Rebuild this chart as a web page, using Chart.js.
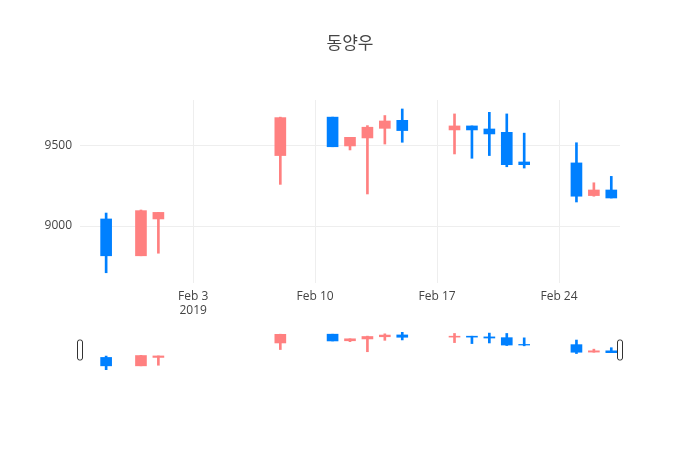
<!DOCTYPE html>
<html><head><meta charset="utf-8">
<script src="https://cdn.jsdelivr.net/npm/chart.js@4"></script>
<style>body{margin:0;background:#fff}#a{position:absolute;left:0;top:0;width:700px;height:320px}#b{position:absolute;left:0;top:328px;width:700px;height:46px}</style>
</head><body>
<div id="a"><canvas id="c1"></canvas></div>
<div id="b"><canvas id="c2"></canvas></div>
<script>
// day offsets relative to Feb 1 2019
const days  = [-3, -1, 0, 7, 10, 11, 12, 13, 14, 17, 18, 19, 20, 21, 24, 25, 26];
const opens = [9044, 8814, 9044, 9440, 9680, 9500, 9550, 9610, 9660, 9600, 9625, 9606, 9585, 9400, 9394, 9190, 9225];
const highs = [9081, 9100, 9085, 9680, 9680, 9554, 9627, 9690, 9731, 9700, 9625, 9710, 9700, 9580, 9520, 9270, 9310];
const lows  = [8708, 8814, 8830, 9260, 9495, 9475, 9200, 9512, 9523, 9450, 9423, 9440, 9370, 9362, 9150, 9186, 9175];
const closes= [8814, 9096, 9085, 9677, 9495, 9554, 9617, 9656, 9596, 9625, 9600, 9575, 9383, 9383, 9186, 9225, 9175];
const xTicks = [2, 9, 16, 23];
const xTickLabels = [["Feb 3","2019"], "Feb 10", "Feb 17", "Feb 24"];
const yTicks = [9000, 9500];
const titleText = "동양우";

const UP = "rgba(255,128,128,1)", DOWN = "rgba(0,128,255,1)";
const col = days.map((d,i)=> closes[i] >= opens[i] ? UP : DOWN);
const wick = days.map((d,i)=>({x:d, y:[lows[i], highs[i]]}));
const body = days.map((d,i)=>({x:d, y:[Math.min(opens[i],closes[i]), Math.max(opens[i],closes[i])]}));
const font = {family:"'Open Sans', sans-serif", size:12};
Chart.defaults.color = "#444";

function datasets(bw, ww){
  return [
    {data: wick, backgroundColor: col, barThickness: ww, grouped:false, borderWidth:0},
    {data: body, backgroundColor: col, barThickness: bw, grouped:false, borderWidth:0}
  ];
}

new Chart(document.getElementById('c1'), {
  type:'bar',
  data:{datasets: datasets(11, 2)},
  options:{
    responsive:true, maintainAspectRatio:false, animation:false,
    layout:{padding:{top:100, right:80, left:0, bottom:0}},
    plugins:{legend:{display:false}, tooltip:{enabled:false}},
    scales:{
      x:{type:'linear', min:-4.5, max:26.5, offset:false,
        afterBuildTicks:s=>{s.ticks = xTicks.map(v=>({value:v}));},
        ticks:{font, callback:(v)=>xTickLabels[xTicks.indexOf(v)], maxRotation:0, padding:6},
        grid:{color:'#eee', drawTicks:false, offset:false}, border:{display:false},
        afterFit:s=>{s.height = 37;}},
      y:{min:8644, max:9787,
        afterBuildTicks:s=>{s.ticks = yTicks.map(v=>({value:v}));},
        ticks:{font, padding:8, callback:v=>String(v)},
        grid:{color:'#eee', drawTicks:false}, border:{display:false},
        afterFit:s=>{s.width = 80;}}
    }
  },
  plugins:[{id:'title', afterDraw(c){const x=c.ctx;x.save();x.font="17px 'Open Sans','Noto Sans CJK KR',sans-serif";x.fillStyle='#444';x.textAlign='center';x.textBaseline='middle';x.fillText(titleText,350,44);x.restore();}}]
});

new Chart(document.getElementById('c2'), {
  type:'bar',
  data:{datasets: datasets(11, 2)},
  options:{
    responsive:true, maintainAspectRatio:false, animation:false,
    layout:{padding:{top:4, right:80, left:80, bottom:4}},
    plugins:{legend:{display:false}, tooltip:{enabled:false}},
    scales:{x:{type:'linear', min:-4.5, max:26.5, offset:false, display:false},
            y:{min:8700, max:9740, display:false}}
  },
  plugins:[{id:'handles', afterDraw(c){const x=c.ctx, a=c.chartArea;x.save();
    [a.left, a.right].forEach(px=>{x.fillStyle='#fff';x.strokeStyle='#333';x.lineWidth=1;
      x.beginPath();x.roundRect(px-2.5, 340-328, 5, 20, 2);x.fill();x.stroke();});
    x.restore();}}]
});
</script>
</body></html>
